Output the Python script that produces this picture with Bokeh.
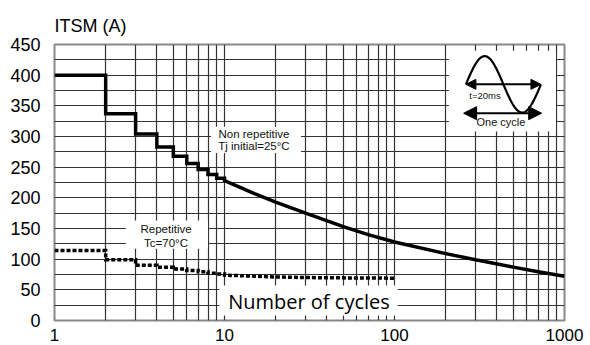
import numpy as np
from bokeh.plotting import figure
from bokeh.models import Range1d, FixedTicker, SingleIntervalTicker, Arrow, NormalHead
from bokeh.core.properties import value
from bokeh.embed import file_html
from bokeh.resources import INLINE

# ---------------- data ----------------
# Non repetitive surge, staircase part (level held from cycle n to n+1)
step_cycles = [1, 2, 3, 4, 5, 6, 7, 8, 9, 10]
step_itsm = [400, 337, 304, 283, 268, 256, 246, 238, 232]
# Non repetitive, smooth part
curve_cycles = [10, 15, 20, 30, 50, 70, 100, 200, 300, 500, 700, 1000]
curve_itsm = [228, 207, 193, 175, 153, 140, 128, 109, 99, 87, 79.5, 72]

# Repetitive (Tc=70 C), staircase part
rep_step_itsm = [114, 99, 90, 87, 84, 81.5, 79.5, 77, 76]
# Repetitive, smooth part
rep_curve_cycles = [10, 20, 30, 50, 100]
rep_curve_itsm = [74, 71, 70, 69.5, 69]

x_major = [1, 10, 100, 1000]
x_minor = [m * d for d in (1, 10, 100) for m in range(2, 10)]
y_interval = 50

FONT = "Liberation Sans"

def stair(xs, ys):
    px, py = [], []
    for i, yv in enumerate(ys):
        px += [xs[i], xs[i + 1]]
        py += [yv, yv]
    return px, py

p = figure(frame_width=510, frame_height=276, width=590,
           x_axis_type="log", x_range=Range1d(1, 1000), y_range=Range1d(0, 450),
           output_backend="svg", toolbar_location=None,
           min_border_left=54, min_border_right=26, min_border_top=44, min_border_bottom=10)

p.title.text = "ITSM (A)"
p.title.text_font = FONT
p.title.text_font_size = "18px"
p.title.text_font_style = "normal"
p.title.text_color = "black"
p.title.align = "left"
p.title.standoff = 18

p.outline_line_color = "#888888"
p.outline_line_width = 2

p.xaxis.ticker = FixedTicker(ticks=x_major, minor_ticks=x_minor)
p.yaxis.ticker = SingleIntervalTicker(interval=y_interval, num_minor_ticks=2)
p.xaxis.major_label_overrides = {1: "1", 10: "10", 100: "100", 1000: "1000"}
for ax in (p.xaxis, p.yaxis):
    ax.axis_line_color = None
    ax.major_tick_line_color = None
    ax.minor_tick_line_color = None
    ax.major_tick_out = 0
    ax.major_label_text_font = FONT
    ax.major_label_text_font_size = "18px"
    ax.major_label_text_color = "black"
p.xaxis.major_label_text_font_size = "17px"
p.yaxis.major_label_standoff = 10
p.xaxis.major_label_standoff = 4

for g in (p.xgrid, p.ygrid):
    g.grid_line_color = "#333333"
    g.grid_line_width = 1.2
    g.minor_grid_line_color = "#333333"
    g.minor_grid_line_width = 1.2
    g.grid_line_alpha = 1

# white boxes behind annotations
box_left = [8.33, 2.63, 9.32, 209]
box_right = [28.2, 8.0, 104.4, 891]
box_bottom = [273, 117, 8.2, 308]
box_top = [316, 163, 57, 440]
p.quad(left=box_left, right=box_right, bottom=box_bottom, top=box_top,
       fill_color="white", line_color=None)

# non repetitive curve
sx, sy = stair(step_cycles, step_itsm)
p.line(sx + curve_cycles, sy + curve_itsm, line_color="black", line_width=3.5,
       line_join="miter")

# repetitive curve
rx, ry = stair(step_cycles, rep_step_itsm)
p.line(rx + rep_curve_cycles, ry + rep_curve_itsm, line_color="black", line_width=3.5,
       line_dash="4 2", line_join="miter")

# annotation texts
p.text(x=[14.9, 14.9], y=[304.4, 283.7], text=["Non repetitive", "Tj initial=25°C"],
       text_font=value(FONT), text_font_size="11.5px", text_align="center",
       text_baseline="middle", text_color="#111111")
p.text(x=[4.53, 4.53], y=[148.4, 126.7], text=["Repetitive", "Tc=70°C"],
       text_font=value(FONT), text_font_size="11.5px", text_align="center",
       text_baseline="middle", text_color="#111111")
p.text(x=[31.4], y=[31.5], text=["Number of cycles"],
       text_font=value("Open Sans"), text_font_size="20px", text_align="center",
       text_baseline="middle", text_color="black")

# inset: one sine cycle icon
t = np.linspace(0, 1, 80)
lx0, lx1 = np.log10(263), np.log10(727)
p.line(10 ** (lx0 + t * (lx1 - lx0)), 385 + 46 * np.sin(2 * np.pi * t),
       line_color="black", line_width=2.2)
for (xa, xb, yy, hs) in [(263, 727, 385, 10), (255, 734, 338, 13)]:
    p.add_layout(Arrow(x_start=xa, y_start=yy, x_end=xb, y_end=yy,
                       line_width=2, line_color="black",
                       start=NormalHead(size=hs, fill_color="black", line_color="black"),
                       end=NormalHead(size=hs, fill_color="black", line_color="black")))
p.text(x=[341], y=[367], text=["t=20ms"], text_font=value(FONT), text_font_size="9.5px",
       text_align="center", text_baseline="middle", text_color="#111111")
p.text(x=[423], y=[323.3], text=["One cycle"], text_font=value(FONT), text_font_size="11px",
       text_align="center", text_baseline="middle", text_color="#111111")

open("out.html", "w").write(file_html(p, INLINE))
